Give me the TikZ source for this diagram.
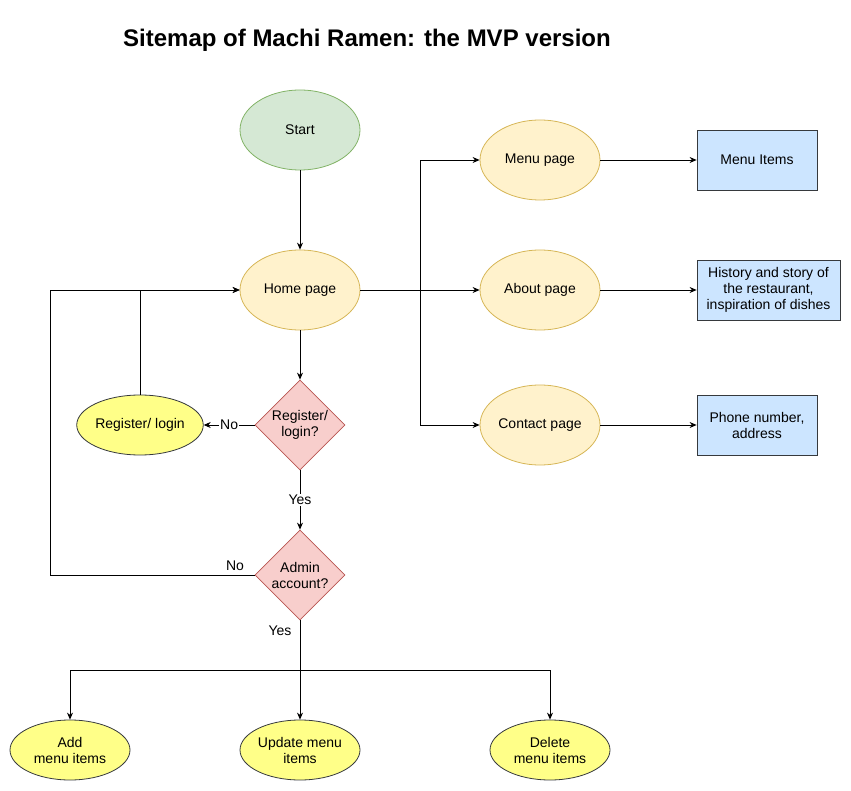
\documentclass[tikz,border=0pt]{standalone}
\usepackage{fontspec}
\setmainfont{Liberation Sans}
\usepackage{xcolor}
\usetikzlibrary{positioning, shapes.geometric, arrows.meta}

\definecolor{startfill}{HTML}{D5E8D4}
\definecolor{startline}{HTML}{82B366}
\definecolor{pagefill}{HTML}{FFF2CC}
\definecolor{pageline}{HTML}{D6B656}
\definecolor{askfill}{HTML}{F8CECC}
\definecolor{askline}{HTML}{B85450}
\definecolor{actfill}{HTML}{FFFF88}
\definecolor{boxfill}{HTML}{CCE5FF}
\definecolor{darkline}{HTML}{36393D}

\begin{document}
\begin{tikzpicture}[x=1pt, y=-1pt, line width=0.8pt,
    >={Stealth[length=7pt,width=6pt]},
    font=\fontsize{14}{16}\selectfont,
    page/.style={ellipse, draw=pageline, fill=pagefill, inner sep=0pt,
        minimum width=120pt, minimum height=80pt, align=center},
    act/.style={ellipse, draw=darkline, fill=actfill, inner sep=0pt,
        minimum width=120pt, minimum height=60pt, align=center},
    ask/.style={diamond, aspect=1, draw=askline, fill=askfill, inner sep=0pt,
        minimum width=90pt, minimum height=90pt, align=center},
    info/.style={rectangle, draw=darkline, fill=boxfill, inner sep=2pt,
        minimum width=120pt, minimum height=60pt, align=center},
    tag/.style={fill=white, inner sep=1pt}]
    \useasboundingbox (0,0) rectangle (851,791);

    \node[font=\fontsize{24}{28}\selectfont\bfseries] (title) at (367,40) {Sitemap of Machi Ramen: the MVP version};

    % main column
    \node[ellipse, draw=startline, fill=startfill, minimum width=120pt, minimum height=80pt] (start) at (300,130) {Start};
    \node[page] (home) at (300,290) {Home page};
    \node[ask] (reg) at (300,425) {Register/\\login?};
    \node[act] (login) at (140,425) {Register/ login};
    \node[ask] (admin) at (300,575) {Admin\\account?};

    % pages
    \node[page] (menu) at (540,160) {Menu page};
    \node[page] (about) at (540,290) {About page};
    \node[page] (contact) at (540,425) {Contact page};
    \node[info] (items) at (757,160) {Menu Items};
    \node[info, minimum width=143pt] (story) at (768.5,290) {History and story of\\the restaurant,\\inspiration of dishes};
    \node[info] (phone) at (757,425) {Phone number,\\address};

    % admin actions
    \node[act] (add) at (70,750) {Add\\menu items};
    \node[act] (update) at (300,750) {Update menu\\items};
    \node[act] (delete) at (550,750) {Delete\\menu items};

    \coordinate (split) at (420,290);
    \coordinate (fork) at (300,670);

    \draw[->] (start) -- (home);
    \draw[->] (home) -- (reg);
    \draw[->] (reg) -- node[tag]{No} (login);
    \draw[->] (login.north) |- (home.west);
    \draw[->] (reg) -- node[tag]{Yes} (admin);
    \draw[->] (admin.west) -- (50,575) |- (home.west);
    \node (adminno) at (235,566) {No};
    \node (adminyes) at (280,631) {Yes};
    \draw (admin.south) -- (fork);
    \draw[->] (fork) -- (update);
    \draw[->] (fork) -| (add);
    \draw[->] (fork) -| (delete);

    \draw (home) -- (split);
    \draw[->] (split) -- (about);
    \draw[->] (split) |- (menu);
    \draw[->] (split) |- (contact);
    \draw[->] (menu) -- (items);
    \draw[->] (about) -- (story);
    \draw[->] (contact) -- (phone);
\end{tikzpicture}
\end{document}
